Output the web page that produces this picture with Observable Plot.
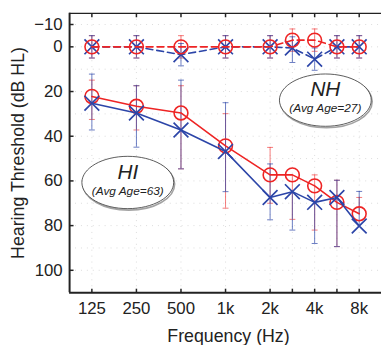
<!DOCTYPE html>
<html><head><meta charset="utf-8">
<script src="https://cdn.jsdelivr.net/npm/d3@7"></script>
<script src="https://cdn.jsdelivr.net/npm/@observablehq/plot@0.6"></script>
<style>
html,body{margin:0;padding:0;background:#fff;}
#wrap{width:381px;height:350px;overflow:hidden;}
</style></head><body><div id="wrap"></div>
<script>
// ---- data ----
const freqs = [125, 250, 500, 1000, 2000, 3000, 4000, 6000, 8000];
const freqLabels = ["125", "250", "500", "1k", "2k", "", "4k", "", "8k"];
const yTickValues = [-10, 0, 20, 40, 60, 80, 100];

// Normal hearing (dashed)
const nhRed  = [0, 0, 0, 0, 0, -3, -3, 0, 0];
const nhRedLo = [-5, -5, -5, -5, -5, -8, -8, -5, -5];
const nhRedHi = [5, 5, 5, 5, 5, 2, 2, 5, 5];
const nhBlue = [0, 0, 3.5, 0, 0, 0.5, 5.5, 0, 0];
const nhBlueLo = [-5, -5, -1.5, -5, -5, -4.5, 0.5, -5, -5];
const nhBlueHi = [5, 5, 8.5, 5, 5, 7, 10.5, 5, 5];

// Hearing impaired (solid)
const hiRed   = [22.2, 26.6, 29.6, 44.3, 57.3, 57.3, 62.2, 69.6, 74.7];
const hiRedLo = [14.9, 17.4, 17.4, 29.9, 45, 57.3, 57.3, 59.7, 67.4];
const hiRedHi = [32.5, 37.2, 54.6, 72.2, 70, 77.2, 82, 89.4, 74.7];
const hiBlue   = [25.2, 29.6, 37.2, 46.8, 67.4, 64.8, 69.6, 67.4, 80.2];
const hiBlueLo = [12.2, 17.4, 14.9, 25, 52.4, 64.8, 69.6, 59.7, 64.7];
const hiBlueHi = [37.2, 44.9, 54.6, 64.8, 77.4, 82, 88, 89.4, 80.2];

// annotations
const annTitle = ["HI", "NH"];
const annSub = ["(Avg Age=63)", "(Avg Age=27)"];
const annX = [0.806, 5.24];   // octave position
const annY = [60.7, 23.85];   // dB HL

// ---- helpers ----
const octavePos = f => ({3000: 4.5, 6000: 5.5})[f] ?? Math.log2(f / 125);
const xTicks = freqs.map(octavePos);
const labelOf = new Map(xTicks.map((p, i) => [p, freqLabels[i]]));
const rows = (vals, lo, hi) => vals.map((v, i) => ({x: octavePos(freqs[i]), y: v, lo: lo[i], hi: hi[i]}));

const RED = "#ee2424", BLUE = "#2c45a8";
const xDom = [-0.5, 6.5], yDom = [-15, 110];

const xSym = {draw(c) { const a = 7.5; c.moveTo(-a, -a); c.lineTo(a, a); c.moveTo(-a, a); c.lineTo(a, -a); }};
const capSym = {draw(c) { c.moveTo(-3, 0); c.lineTo(3, 0); }};
const tickRight = {draw(c) { c.moveTo(0, 0); c.lineTo(4, 0); }};
const tickUp = {draw(c) { c.moveTo(0, 0); c.lineTo(0, -4); }};
const tickDown = {draw(c) { c.moveTo(0, 0); c.lineTo(0, 4); }};
const ellSym = {draw(c) {
  const rx = 46.5, ry = 26.5, k = 0.5523;
  c.moveTo(rx, 0);
  c.bezierCurveTo(rx, k * ry, k * rx, ry, 0, ry);
  c.bezierCurveTo(-k * rx, ry, -rx, k * ry, -rx, 0);
  c.bezierCurveTo(-rx, -k * ry, -k * rx, -ry, 0, -ry);
  c.bezierCurveTo(k * rx, -ry, rx, -k * ry, rx, 0);
  c.closePath();
}};

const nhR = rows(nhRed, nhRedLo, nhRedHi), nhB = rows(nhBlue, nhBlueLo, nhBlueHi);
const hiR = rows(hiRed, hiRedLo, hiRedHi), hiB = rows(hiBlue, hiBlueLo, hiBlueHi);
const ann = annTitle.map((t, i) => ({t, s: annSub[i], x: annX[i], y: annY[i]}));

function errMarks(data, color, op) {
  const caps = [];
  data.forEach(d => {
    if (d.lo !== d.y) caps.push({x: d.x, y: d.lo});
    if (d.hi !== d.y) caps.push({x: d.x, y: d.hi});
  });
  return [
    Plot.ruleX(data, {x: "x", y1: "lo", y2: "hi", stroke: color, strokeOpacity: op, strokeWidth: 1}),
    Plot.dot(caps, {x: "x", y: "y", symbol: capSym, stroke: color, strokeOpacity: op, fill: "none", strokeWidth: 1})
  ];
}
function seriesMarks(data, color, dashed, marker) {
  return [
    Plot.line(data, {x: "x", y: "y", stroke: color, strokeWidth: 1.6, strokeDasharray: dashed ? "7,4" : null}),
    marker === "o"
      ? Plot.dot(data, {x: "x", y: "y", r: 7, stroke: color, fill: "none", strokeWidth: 1.6})
      : Plot.dot(data, {x: "x", y: "y", symbol: xSym, stroke: color, fill: "none", strokeWidth: 1.7})
  ];
}

const chart = Plot.plot({
  width: 386, height: 350,
  marginLeft: 70, marginRight: 0, marginTop: 13, marginBottom: 54,
  style: {fontFamily: "'Liberation Sans', Arial, Helvetica, sans-serif", fontSize: "17px", color: "#222", background: "#fff"},
  x: {type: "linear", domain: xDom},
  y: {domain: yDom, reverse: true},
  marks: [
    Plot.gridY(d3.range(-10, 111, 10), {stroke: "#888", strokeOpacity: 0.3, strokeDasharray: "1,5"}),
    Plot.gridX(xTicks, {stroke: "#888", strokeOpacity: 0.3, strokeDasharray: "1,5"}),
    // annotation ellipses
    Plot.dot(ann, {x: "x", y: "y", symbol: ellSym, stroke: "#666", strokeOpacity: 0.6, strokeWidth: 1.6, fill: "none", dx: 1, dy: 1.5}),
    Plot.dot(ann, {x: "x", y: "y", symbol: ellSym, stroke: "#333", strokeWidth: 0.8, fill: "white"}),
    Plot.text(ann, {x: "x", y: "y", text: "t", dy: -10.5, fontSize: 21, fontStyle: "italic", fill: "#222"}),
    Plot.text(ann, {x: "x", y: "y", text: "s", dy: 8.5, fontSize: 12, fontStyle: "italic", fill: "#222"}),
    // error bars
    ...errMarks(hiR, RED, 0.6), ...errMarks(hiB, BLUE, 0.7),
    ...errMarks(nhR, RED, 0.6), ...errMarks(nhB, BLUE, 0.7),
    // series
    ...seriesMarks(hiR, RED, false, "o"), ...seriesMarks(hiB, BLUE, false, "x"),
    ...seriesMarks(nhB, BLUE, true, "x"), ...seriesMarks(nhR, RED, true, "o"),
    // frame
    Plot.ruleY([yDom[0]], {stroke: "#222", strokeWidth: 1.3}),
    Plot.ruleY([yDom[1]], {stroke: "#222", strokeWidth: 2}),
    Plot.ruleX([xDom[0]], {stroke: "#222", strokeWidth: 2}),
    Plot.dot(yTickValues, {x: xDom[0], y: d => d, symbol: tickRight, stroke: "#222", fill: "none"}),
    Plot.dot(xTicks, {x: d => d, y: yDom[1], symbol: tickUp, stroke: "#222", fill: "none"}),
    Plot.dot(xTicks, {x: d => d, y: yDom[0], symbol: tickDown, stroke: "#222", fill: "none"}),
    // axes
    Plot.axisY({ticks: yTickValues, tickSize: 0, tickPadding: 7, label: null, fill: "#222"}),
    Plot.axisX({ticks: xTicks, tickFormat: v => labelOf.get(v) ?? "", tickSize: 0, tickPadding: 10, label: null, fill: "#222"}),
    Plot.text(["Frequency (Hz)"], {frameAnchor: "bottom", text: d => d, dy: 44, dx: 3, fontSize: 18, fill: "#222", textAnchor: "middle", lineAnchor: "middle"}),
    Plot.text(["Hearing Threshold (dB HL)"], {frameAnchor: "left", text: d => d, dx: -52, rotate: -90, fontSize: 18, fill: "#222", textAnchor: "middle", lineAnchor: "middle"})
  ]
});
document.getElementById("wrap").appendChild(chart);
</script>
</body></html>
